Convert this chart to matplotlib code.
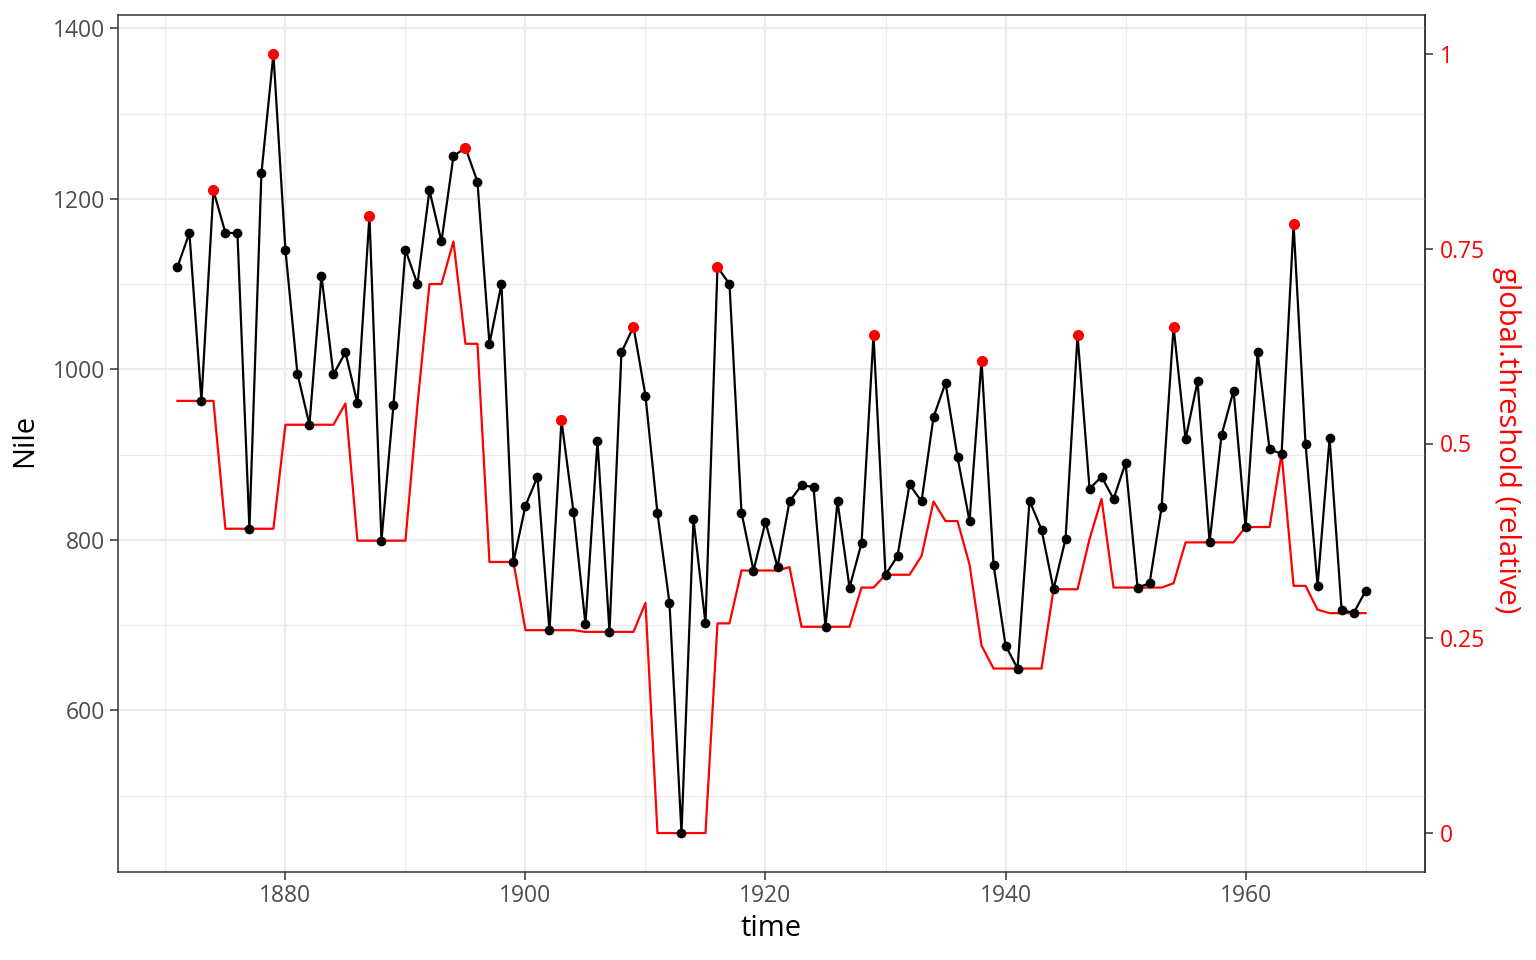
import numpy as np
import matplotlib.pyplot as plt

# annual Nile flow 1871-1970
years = list(range(1871, 1971))
nile = [1120, 1160, 963, 1210, 1160, 1160, 813, 1230, 1370, 1140,
        995, 935, 1110, 994, 1020, 960, 1180, 799, 958, 1140,
        1100, 1210, 1150, 1250, 1260, 1220, 1030, 1100, 774, 840,
        874, 694, 940, 833, 701, 916, 692, 1020, 1050, 969,
        831, 726, 456, 824, 702, 1120, 1100, 832, 764, 821,
        768, 845, 864, 862, 698, 845, 744, 796, 1040, 759,
        781, 865, 845, 944, 984, 897, 822, 1010, 771, 676,
        649, 846, 812, 742, 801, 1040, 860, 874, 848, 890,
        744, 749, 838, 1050, 918, 986, 797, 923, 975, 815,
        1020, 906, 901, 1170, 912, 746, 919, 718, 714, 740]

# threshold line (Nile units)
threshold = [963, 963, 963, 963, 813, 813, 813, 813, 813, 935,
             935, 935, 935, 935, 960, 799, 799, 799, 799, 799,
             958, 1100, 1100, 1150, 1030, 1030, 774, 774, 774, 694,
             694, 694, 694, 694, 692, 692, 692, 692, 692, 726,
             456, 456, 456, 456, 456, 702, 702, 764, 764, 764,
             764, 768, 698, 698, 698, 698, 698, 744, 744, 759,
             759, 759, 781, 845, 822, 822, 771, 676, 649, 649,
             649, 649, 649, 742, 742, 742, 801, 848, 744, 744,
             744, 744, 744, 749, 797, 797, 797, 797, 797, 815,
             815, 815, 901, 746, 746, 718, 714, 714, 714, 714]

peak_years = [1874, 1879, 1887, 1895, 1903, 1909, 1916, 1929, 1938,
              1946, 1954, 1964]

rel_ticks = [0, 0.25, 0.5, 0.75, 1]
rel_labels = ['0', '0.25', '0.5', '0.75', '1']

plt.rcParams['font.family'] = ['Open Sans', 'DejaVu Sans']

fig = plt.figure(figsize=(15.36, 9.6), dpi=100)
ax = fig.add_axes([118/1536, 1-872/960, 1307/1536, 857/960])

lo, hi = min(nile), max(nile)
peak_vals = [nile[years.index(y)] for y in peak_years]

ax.plot(years, threshold, color='red', lw=1.6, zorder=3)
ax.plot(years, nile, color='black', lw=1.6, zorder=4)
ax.plot(years, nile, 'o', color='black', ms=7, mec='none', zorder=5)
ax.plot(peak_years, peak_vals, 'o', color='red', ms=8, mec='none', zorder=6)

# ggplot-ish expansion
xr = years[-1]-years[0]
ax.set_xlim(years[0]-0.05*xr, years[-1]+0.05*xr)
yr = hi-lo
ax.set_ylim(lo-0.05*yr, hi+0.05*yr)

ax.set_xticks([1880, 1900, 1920, 1940, 1960])
ax.set_xticks([1870, 1890, 1910, 1930, 1950, 1970], minor=True)
ax.set_yticks([600, 800, 1000, 1200, 1400])
ax.set_yticks([500, 700, 900, 1100, 1300], minor=True)

ax.grid(which='major', color='#EBEBEB', lw=1.6)
ax.grid(which='minor', color='#EBEBEB', lw=0.9)
ax.set_axisbelow(True)
for s in ax.spines.values():
    s.set_color('#333333')
    s.set_linewidth(1.1)

ax.tick_params(which='major', length=5.5, width=1.1, color='#333333',
               labelsize=16.5, labelcolor='#4D4D4D', pad=4)
ax.tick_params(axis='x', pad=3)
ax.tick_params(which='minor', length=0)

sec = ax.secondary_yaxis('right', functions=(lambda v: (v-lo)/(hi-lo),
                                             lambda r: lo+r*(hi-lo)))
sec.set_yticks(rel_ticks)
sec.set_yticklabels(rel_labels)
sec.tick_params(length=5.5, width=1.1, color='#333333', labelsize=16.5,
                labelcolor='red', pad=5)
sec.spines['right'].set_color('#333333')
sec.spines['right'].set_linewidth(1.1)

fig.text(771/1536, 1-928/960, 'time', ha='center', va='center', fontsize=21)
fig.text(25/1536, 1-440/960, 'Nile', ha='center', va='center',
         fontsize=21, rotation=90)
fig.text(1507/1536, 1-440/960, 'global.threshold (relative)', ha='center',
         va='center', fontsize=21, rotation=-90, color='red')

fig.savefig('out.png', dpi=100)
